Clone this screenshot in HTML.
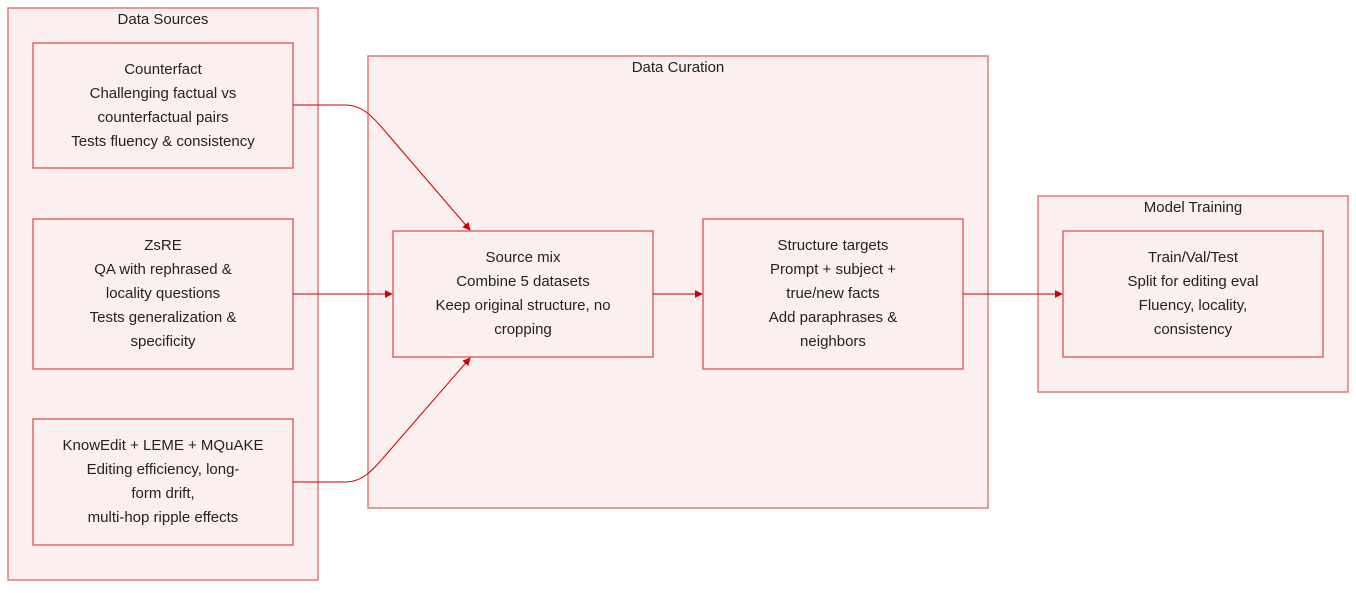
<!DOCTYPE html>
<html><head><meta charset="utf-8"><style>
html,body{margin:0;padding:0;background:#fff;}
svg text{font-family:"Liberation Sans",sans-serif;font-size:15px;fill:#222;text-anchor:middle;}
.g{fill:#fcefef;stroke:#e07a7a;stroke-width:1.5;}
.n{fill:#fcefef;stroke:#d9534f;stroke-width:1.3;}
.e{fill:none;stroke:#cc0000;stroke-width:1;}
</style></head><body>
<svg width="1356" height="588" xmlns="http://www.w3.org/2000/svg">
<defs><marker id="a" viewBox="0 0 10 10" refX="9" refY="5" markerWidth="8" markerHeight="8" orient="auto"><path d="M0,0L10,5L0,10z" fill="#cc0000"/></marker></defs>
<rect class="g" x="8" y="8" width="310" height="572"/>
<text x="163" y="24">Data Sources</text>
<rect class="g" x="368" y="56" width="620" height="452"/>
<text x="678" y="72">Data Curation</text>
<rect class="g" x="1038" y="196" width="310" height="196"/>
<text x="1193" y="212">Model Training</text>

<rect class="n" x="33" y="43" width="260" height="125"/>
<text x="163" y="74">Counterfact</text><text x="163" y="98">Challenging factual vs</text><text x="163" y="122">counterfactual pairs</text><text x="163" y="146">Tests fluency &amp; consistency</text>

<rect class="n" x="33" y="219" width="260" height="150"/>
<text x="163" y="250">ZsRE</text><text x="163" y="274">QA with rephrased &amp;</text><text x="163" y="298">locality questions</text><text x="163" y="322">Tests generalization &amp;</text><text x="163" y="346">specificity</text>

<rect class="n" x="33" y="419" width="260" height="126"/>
<text x="163" y="450">KnowEdit + LEME + MQuAKE</text><text x="163" y="474">Editing efficiency, long-</text><text x="163" y="498">form drift,</text><text x="163" y="522">multi-hop ripple effects</text>

<rect class="n" x="393" y="231" width="260" height="126"/>
<text x="523" y="262">Source mix</text><text x="523" y="286">Combine 5 datasets</text><text x="523" y="310">Keep original structure, no</text><text x="523" y="334">cropping</text>

<rect class="n" x="703" y="219" width="260" height="150"/>
<text x="833" y="250">Structure targets</text><text x="833" y="274">Prompt + subject +</text><text x="833" y="298">true/new facts</text><text x="833" y="322">Add paraphrases &amp;</text><text x="833" y="346">neighbors</text>

<rect class="n" x="1063" y="231" width="260" height="126"/>
<text x="1193" y="262">Train/Val/Test</text><text x="1193" y="286">Split for editing eval</text><text x="1193" y="310">Fluency, locality,</text><text x="1193" y="334">consistency</text>

<path class="e" d="M293,105 L345,105 C362,105 372,116 384,130 L470,230" marker-end="url(#a)"/>
<path class="e" d="M293,294 L392,294" marker-end="url(#a)"/>
<path class="e" d="M293,482 L345,482 C362,482 372,471 384,457 L470,358" marker-end="url(#a)"/>
<path class="e" d="M653,294 L702,294" marker-end="url(#a)"/>
<path class="e" d="M963,294 L1062,294" marker-end="url(#a)"/>
</svg>
</body></html>
